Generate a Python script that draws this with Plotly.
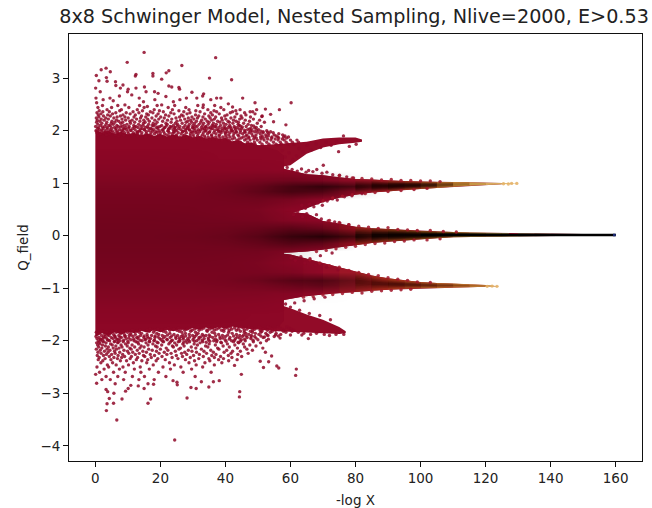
import plotly.graph_objects as go

# ---- envelopes (x = -log X, y = Q_field) ----
body_x   = [0, 2, 4, 6, 8, 10, 12, 14, 16, 18, 20, 22, 24, 26, 28, 30, 32, 34, 36, 38, 40, 42, 44, 46, 48, 50, 52, 54, 56, 58]
body_top = [2.02, 1.96, 2.00, 1.94, 1.98, 1.93, 1.96, 1.91, 1.95, 1.90, 1.94, 1.89, 1.93, 1.88, 1.92, 1.87, 1.90, 1.85, 1.88, 1.84, 1.86, 1.80, 1.82, 1.76, 1.78, 1.72, 1.70, 1.66, 1.62, 1.52]
body_bot = [-1.92, -1.86, -1.90, -1.84, -1.88, -1.83, -1.86, -1.81, -1.85, -1.80, -1.84, -1.79, -1.82, -1.78, -1.80, -1.76, -1.79, -1.75, -1.78, -1.74, -1.77, -1.73, -1.76, -1.75, -1.78, -1.76, -1.79, -1.78, -1.76, -1.62]

up18_x   = [45, 50, 55, 60, 65, 70, 75, 80, 82]
up18_top = [1.74, 1.72, 1.74, 1.76, 1.79, 1.85, 1.87, 1.87, 1.83]
up18_bot = [1.2, 1.25, 1.28, 1.34, 1.56, 1.68, 1.74, 1.77, 1.79]

up1_x   = [50, 60, 65, 70, 75, 80, 85, 90, 95, 100, 105, 110, 115, 120, 125, 130]
up1_top = [1.4, 1.24, 1.17, 1.15, 1.11, 1.08, 1.07, 1.05, 1.04, 1.03, 1.02, 1.02, 1.015, 1.01, 1.005, 1.0]
up1_bot = [0.3, 0.42, 0.52, 0.64, 0.72, 0.78, 0.82, 0.84, 0.87, 0.89, 0.91, 0.93, 0.95, 0.965, 0.98, 0.99]

mid_x   = [50, 60, 65, 70, 75, 80, 85, 90, 95, 100, 105, 110, 115, 120, 125, 130, 135, 140, 150, 160]
mid_top = [0.5, 0.45, 0.42, 0.28, 0.23, 0.17, 0.14, 0.125, 0.11, 0.09, 0.08, 0.07, 0.06, 0.055, 0.05, 0.045, 0.04, 0.035, 0.03, 0.03]
mid_bot = [-0.34, -0.32, -0.3, -0.27, -0.22, -0.18, -0.14, -0.11, -0.09, -0.07, -0.05, -0.03, -0.025, -0.02, -0.02, -0.015, -0.01, -0.005, 0.0, 0.0]

dn1_x   = [45, 56, 60, 64, 70, 75, 80, 85, 90, 95, 100, 105, 110, 115, 120, 124]
dn1_top = [-0.3, -0.33, -0.36, -0.42, -0.52, -0.6, -0.68, -0.76, -0.81, -0.85, -0.88, -0.9, -0.91, -0.925, -0.94, -0.955]
dn1_bot = [-1.3, -1.25, -1.2, -1.16, -1.12, -1.09, -1.07, -1.05, -1.03, -1.01, -1.0, -0.995, -0.985, -0.98, -0.97, -0.965]

dn18_x   = [45, 56, 60, 65, 70, 75, 77]
dn18_top = [-1.3, -1.3, -1.38, -1.5, -1.6, -1.74, -1.82]
dn18_bot = [-1.76, -1.82, -1.84, -1.85, -1.86, -1.87, -1.86]

line_x = [100, 160]
line_y = [0.013, 0.013]
cap_x = [159.2, 160]
cap_y = [0.013, 0.013]

# darkness of the dense interior
shade_x = [0, 0.3, 15, 30, 40, 50, 60, 70, 80, 88]
shade_y = [-1.7, -1.5, -1.3, -1.1, -0.95, -0.85, -0.7, -0.5, -0.3, -0.15, 0, 0.15, 0.3, 0.5, 0.7, 0.85, 0.95, 1.05, 1.25, 1.5, 1.7]
shade_z = [
    [0, 0, 0, 0, 0, 0, 0, 0, 0, 0],
    [0, .02, .02, .02, .01, 0, 0, 0, 0, 0],
    [0, .05, .05, .05, .04, .03, 0, 0, 0, 0],
    [0, .10, .10, .10, .10, .09, .06, .02, 0, 0],
    [0, .13, .13, .13, .15, .18, .28, .38, .25, 0],
    [0, .15, .15, .15, .18, .26, .42, .50, .35, 0],
    [0, .17, .17, .17, .17, .16, .12, 0, 0, 0],
    [0, .19, .19, .19, .18, .14, .04, 0, 0, 0],
    [0, .21, .21, .21, .20, .20, .12, 0, 0, 0],
    [0, .23, .23, .23, .25, .32, .45, .35, 0, 0],
    [0, .23, .23, .25, .29, .42, .68, .82, .60, 0],
    [0, .23, .23, .23, .25, .30, .40, .30, 0, 0],
    [0, .22, .22, .21, .20, .18, .08, 0, 0, 0],
    [0, .20, .20, .19, .17, .14, .02, 0, 0, 0],
    [0, .18, .18, .18, .19, .22, .16, 0, 0, 0],
    [0, .16, .16, .16, .22, .36, .55, .50, .12, 0],
    [0, .14, .14, .14, .20, .32, .55, .72, .55, 0],
    [0, .11, .11, .11, .14, .18, .22, .15, .04, 0],
    [0, .06, .06, .05, .04, .03, 0, 0, 0, 0],
    [0, .02, .02, .01, 0, 0, 0, 0, 0, 0],
    [0, 0, 0, 0, 0, 0, 0, 0, 0, 0],
]

# ---- individual points ----
stray_x = [15.0, 37.0, 9.8, 26.6, 3.3, 1.8, 4.6, 22.6, 21.8, 17.7, 12.5, 12.3, 17.7, 0.3, 35.1, 41.9, 20.4, 3.4, 3.6, 1.1,
           6.2, 6.3, 8.5, 0.1, 7.7, 10.1, 12.5, 15.1, 22.6, 23.5, 25.7, 25.9, 1.5, 9.9, 15.6, 18.2, 19.3, 29.7, 33.3, 33.0,
           45.3, 60.2, 56.6, 58.6, 52.3, 49.1, 0.2, 0.4, 2.4, 4.5, 5.5, 7.4, 9.1, 11.2, 13.5, 14.8, 16.0, 18.3, 20.4, 21.7,
           24.0, 26.0, 28.0, 31.2, 33.2, 35.5, 37.3, 38.6, 40.9, 42.2, 44.5, 47.6, 49.6, 51.2, 53.9, 54.8, 70.1, 74.8,
           24.4, 6.6, 3.4, 3.6, 5.6, 4.3, 8.2, 16.2, 17.0, 28.2, 44.3, 44.4, 5.7, 3.8, 3.3, 9.3, 10.1, 10.9, 13.2, 15.0,
           16.2, 17.9, 23.9, 25.1, 25.2, 29.4, 31.0, 32.6, 34.9, 36.3, 38.1, 0.4, 0.1, 6.1, 44.9, 61.6, 61.8, 55.8, 56.4, 51.7,
           50.7, 53.3, 54.2, 52.3, 42.8, 65.5, 56.8, 76.4]
stray_y = [3.49, 3.39, 3.30, 3.24, 3.19, 3.16, 3.12, 3.14, 3.10, 3.09, 3.07, 3.04, 3.04, 3.05, 3.00, 2.97, 2.98, 3.01, 2.94, 2.95,
           2.93, 2.86, 2.87, 2.81, 2.81, 2.79, 2.81, 2.83, 2.85, 2.83, 2.82, 2.79, 2.74, 2.74, 2.74, 2.74, 2.71, 2.73, 2.70, 2.66,
           2.62, 2.53, 2.40, 2.11, 2.41, 2.53, 2.62, 2.53, 2.59, 2.62, 2.57, 2.66, 2.49, 2.68, 2.62, 2.55, 2.46, 2.59, 2.49, 2.65,
           2.55, 2.59, 2.62, 2.62, 2.49, 2.59, 2.62, 2.62, 2.51, 2.45, 2.40, 2.36, 2.40, 2.27, 2.31, 2.17, 1.34, 1.60,
           -3.89, -3.51, -3.33, -3.20, -3.19, -3.10, -3.11, -3.19, -3.11, -3.09, -3.07, -2.97, -3.00, -2.97, -2.93, -2.96, -2.91, -2.85, -2.86, -2.91,
           -2.82, -2.83, -2.76, -2.79, -2.84, -2.89, -2.91, -2.78, -2.88, -2.78, -2.76, -2.81, -2.64, -2.82, -2.64, -2.66, -2.54, -2.48, -2.52, -2.51,
           -2.39, -2.40, -2.29, -2.22, -2.47, -1.96, -1.95, -1.88]

# dense speckle, row by row (y value -> x positions estimated along that row)
upper_rows = {
    1.74: [47.0, 49.1, 51.3, 53.4, 55.6, 57.2, 59.3, 61.0],
    1.78: [44.6, 46.8, 48.9, 50.6, 52.7, 54.8, 56.9, 58.7, 60.6, 62.5],
    1.82: [39.0, 41.2, 43.5, 45.9, 47.6, 49.8, 51.9, 54.0, 56.2, 58.1, 60.0, 62.0],
    1.84: [30.6, 33.0, 35.2, 37.4, 39.8, 42.1, 44.2, 46.4, 48.7, 50.9, 53.0, 55.3, 57.5],
    1.86: [25.1, 27.3, 29.4, 31.7, 33.8, 36.1, 38.3, 40.5, 42.8, 44.9, 47.2, 49.5, 51.6, 54.2, 56.4, 58.8],
    1.88: [15.4, 19.6, 21.3, 23.7, 26.0, 28.2, 30.3, 32.5, 34.7, 37.0, 39.2, 41.4, 45.5, 47.2, 49.0, 50.8, 52.5, 54.3, 56.1, 57.9, 59.4],
    1.90: [7.2, 13.0, 17.4, 22.6, 25.0, 27.0, 29.2, 31.4, 33.6, 35.8, 38.0, 40.1, 42.4, 44.1, 46.3, 48.4, 51.3, 53.2, 55.6, 58.3],
    1.92: [0.9, 3.4, 6.2, 8.8, 11.2, 14.1, 16.8, 19.4, 22.0, 24.9, 27.4, 30.1, 32.9, 35.7, 38.2, 41.0, 43.8, 46.6, 49.4, 52.4, 55.0, 57.6],
    1.94: [1.5, 4.4, 7.6, 10.2, 13.0, 15.6, 18.2, 21.3, 23.6, 26.4, 29.2, 31.6, 34.5, 37.1, 40.0, 42.6, 45.3, 48.1, 50.7, 53.3, 56.4],
    1.96: [0.5, 2.6, 5.6, 9.0, 11.7, 14.3, 17.1, 20.0, 22.7, 25.5, 28.0, 30.9, 33.2, 36.4, 38.7, 41.4, 44.5, 47.3, 51.6, 54.7],
    1.97: [3.1, 6.6, 12.9, 19.0, 24.2, 29.9, 35.0, 39.9, 43.2, 46.0, 49.9, 53.0],
    1.98: [1.9, 3.9, 6.9, 10.0, 12.8, 15.7, 18.6, 21.0, 24.1, 26.8, 29.5, 32.1, 35.2, 37.9, 40.6, 43.4, 46.0, 49.0, 51.6, 53.9],
    1.99: [0.8, 4.7, 8.4, 13.6, 17.6, 22.4, 27.0, 31.2, 34.0, 38.4, 42.2, 47.7, 50.9],
    2.00: [0.2, 3.0, 5.2, 8.1, 11.0, 13.6, 16.5, 19.6, 22.3, 25.0, 27.7, 30.4, 33.7, 36.7, 39.1, 42.0, 44.7, 48.2, 52.7],
    2.01: [2.0, 6.3, 10.8, 15.2, 20.5, 24.6, 28.9, 32.3, 37.8, 41.7, 45.9, 49.6],
    2.02: [1.3, 4.5, 7.4, 9.6, 12.2, 15.0, 18.0, 20.8, 23.9, 26.3, 29.0, 31.7, 34.1, 37.4, 40.4, 43.1, 46.8, 50.2],
    2.03: [3.6, 8.9, 13.9, 17.3, 22.5, 27.8, 33.0, 35.6, 39.7, 44.2, 47.4],
    2.04: [0.7, 2.4, 6.4, 8.6, 11.5, 14.4, 17.0, 19.2, 22.8, 25.6, 28.3, 30.6, 33.5, 36.1, 38.9, 41.8, 45.0, 47.9],
    2.05: [5.0, 10.3, 16.3, 21.1, 24.4, 30.0, 34.8, 40.0, 42.9, 49.0],
    2.06: [1.0, 3.7, 5.9, 9.4, 13.1, 15.4, 18.8, 21.4, 24.5, 27.1, 29.9, 32.6, 35.4, 38.0, 40.9, 43.6, 49.5],
    2.07: [2.2, 7.7, 12.0, 19.3, 23.4, 28.4, 33.9, 37.1, 41.5, 45.2],
    2.08: [0.1, 2.9, 7.0, 10.4, 12.5, 16.0, 19.9, 23.0, 26.0, 28.7, 31.3, 34.0, 36.8, 39.6, 42.7, 46.4, 51.0],
    2.09: [4.6, 8.2, 14.0, 17.9, 21.8, 25.2, 30.7, 36.2, 44.6, 48.7],
    2.10: [1.6, 4.2, 6.6, 8.9, 11.8, 14.7, 17.5, 20.4, 24.0, 27.6, 30.0, 33.0, 35.9, 38.5, 41.3, 44.2, 48.0],
    2.12: [0.8, 3.3, 5.5, 9.7, 13.3, 16.4, 18.5, 22.1, 25.3, 28.9, 31.9, 34.7, 37.2, 40.2, 43.9, 47.0],
    2.14: [2.0, 4.9, 7.8, 10.8, 14.8, 17.8, 21.7, 24.6, 26.7, 30.5, 33.3, 36.3, 39.4, 42.3, 45.6, 49.8],
    2.16: [0.4, 3.5, 6.0, 8.4, 12.1, 15.3, 19.0, 23.3, 27.9, 29.6, 32.4, 35.0, 38.3, 41.2, 44.0, 52.0],
    2.18: [1.4, 5.1, 7.2, 10.6, 13.7, 16.6, 20.7, 25.1, 28.4, 31.1, 34.4, 37.6, 40.8, 43.3, 47.4],
    2.20: [0.6, 2.7, 6.5, 9.3, 11.3, 14.9, 18.3, 22.2, 26.2, 29.3, 32.7, 35.8, 39.0, 42.5, 46.1, 50.5],
    2.22: [1.8, 4.0, 8.2, 12.7, 16.1, 19.5, 23.5, 27.5, 30.3, 33.8, 36.6, 40.1, 44.4, 48.6],
    2.24: [0.3, 3.2, 5.7, 10.1, 13.9, 17.4, 21.2, 24.8, 28.6, 31.4, 35.3, 38.8, 41.7, 45.1],
    2.26: [1.1, 6.7, 9.1, 11.9, 15.5, 20.1, 25.9, 29.7, 33.1, 37.0, 42.9, 47.7],
    2.28: [2.5, 4.6, 7.7, 14.2, 18.7, 22.6, 27.0, 31.8, 34.9, 39.8, 44.8, 51.3],
    2.30: [0.9, 3.8, 8.5, 12.3, 16.3, 21.6, 26.5, 30.8, 36.0, 40.5, 46.3],
    2.32: [1.7, 5.3, 10.7, 15.8, 19.3, 24.2, 28.2, 33.6, 38.1, 43.5, 49.1],
    2.34: [0.5, 6.3, 9.5, 13.4, 17.7, 23.2, 29.1, 35.5, 41.5, 45.9],
    2.36: [2.3, 4.3, 11.6, 16.9, 20.9, 27.2, 32.2, 37.3, 42.2, 48.4],
    2.38: [1.2, 7.5, 14.5, 19.7, 25.7, 30.9, 36.5, 43.2],
    2.40: [3.6, 8.0, 12.9, 18.1, 23.7, 28.8, 34.6, 39.5],
    2.44: [0.8, 5.0, 10.3, 15.0, 22.4, 27.8, 33.1, 38.6],
    2.48: [2.2, 6.9, 13.6, 19.0, 24.4, 31.5, 36.7],
}
lower_rows = {
    -1.74: [31.5, 34.7, 38.2, 41.6, 44.9, 47.3, 50.4, 53.1, 56.2, 58.9],
    -1.76: [22.4, 25.6, 28.8, 31.0, 33.4, 35.9, 38.0, 40.6, 42.8, 45.5, 48.1, 50.9, 53.7, 56.8, 59.6],
    -1.78: [16.8, 19.2, 21.6, 24.1, 26.3, 28.2, 30.4, 32.7, 35.1, 37.3, 39.6, 41.9, 44.0, 46.6, 49.0, 51.5, 54.2, 57.4, 60.2],
    -1.80: [11.4, 13.7, 16.0, 18.3, 20.4, 22.9, 25.1, 27.5, 29.7, 31.9, 34.3, 36.6, 38.8, 41.2, 43.4, 45.8, 48.4, 50.7, 52.9, 55.4, 58.1, 61.0],
    -1.82: [2.1, 5.1, 8.3, 12.8, 16.6, 20.9, 25.8, 29.3, 34.4, 39.5, 44.6, 47.7, 51.2, 54.4, 57.8, 60.5],
    -1.84: [0.3, 3.5, 6.4, 9.9, 13.5, 17.9, 21.7, 26.6, 30.8, 35.9, 41.0, 45.8, 48.3, 50.9, 53.8, 58.6, 62.4],
    -1.86: [1.3, 4.6, 7.8, 10.8, 14.2, 18.9, 22.9, 27.7, 31.6, 36.7, 42.1, 46.3, 49.2, 52.4, 55.6, 64.1, 68.0],
    -1.88: [0.6, 2.9, 5.6, 8.9, 12.3, 15.9, 19.5, 24.2, 28.9, 32.9, 37.9, 43.4, 47.2, 50.3, 57.0, 66.2, 70.4, 74.0],
    -1.89: [3.8, 11.0, 22.2, 26.9, 31.1, 35.0, 40.7, 45.6, 52.8, 55.4, 60.0, 63.5],
    -1.90: [1.9, 4.2, 7.2, 10.4, 13.9, 17.3, 20.6, 25.3, 29.9, 34.0, 39.1, 44.4, 48.0, 53.1, 72.0],
    -1.91: [6.0, 9.2, 15.0, 18.4, 23.5, 27.8, 33.3, 37.0, 42.5, 46.4, 50.9, 56.3],
    -1.92: [0.2, 3.0, 6.0, 9.1, 11.6, 16.0, 21.4, 26.4, 30.6, 35.3, 40.0, 45.2, 49.0, 55.0],
    -1.93: [2.5, 7.6, 13.2, 19.3, 24.7, 29.0, 32.4, 38.3, 43.6, 47.9, 52.0],
    -1.94: [1.1, 4.9, 8.0, 12.7, 14.9, 18.3, 23.0, 27.1, 31.9, 36.1, 41.4, 46.7, 51.6],
    -1.95: [3.4, 6.3, 10.3, 16.4, 20.9, 25.8, 30.3, 34.7, 39.2, 44.3, 49.4],
    -1.96: [0.5, 2.4, 5.4, 9.5, 13.1, 17.0, 19.8, 24.8, 28.4, 33.5, 38.4, 43.1, 47.8],
    -1.97: [1.7, 7.1, 11.8, 15.5, 22.0, 27.0, 31.8, 36.9, 41.2, 45.9, 53.2],
    -1.98: [1.6, 3.7, 6.7, 10.9, 15.3, 20.2, 22.1, 26.0, 30.0, 34.8, 39.9, 44.9, 50.0],
    -1.99: [4.0, 8.7, 13.8, 18.2, 23.7, 28.7, 32.9, 37.4, 42.8, 48.5],
    -2.00: [0.9, 4.4, 7.6, 11.9, 14.4, 18.0, 23.4, 27.9, 31.2, 36.4, 41.9, 46.1, 52.6],
    -2.01: [2.2, 6.0, 10.0, 16.6, 20.7, 25.9, 30.5, 35.2, 40.2, 44.6],
    -2.02: [2.6, 5.8, 8.6, 12.5, 16.7, 21.0, 25.5, 29.0, 33.0, 37.3, 42.5, 48.6],
    -2.03: [1.2, 7.0, 13.0, 19.0, 23.0, 27.2, 34.1, 38.6, 43.9],
    -2.04: [0.4, 3.3, 6.9, 10.1, 15.6, 19.3, 24.4, 28.2, 32.2, 38.8, 44.1, 50.8],
    -2.06: [1.4, 4.7, 9.3, 13.3, 17.7, 22.6, 26.9, 30.4, 35.0, 40.6, 45.5],
    -2.08: [0.7, 2.2, 5.2, 7.9, 11.3, 16.2, 20.4, 25.0, 31.4, 36.9, 42.9, 47.5],
    -2.10: [3.1, 6.3, 9.8, 14.1, 18.5, 23.7, 27.3, 33.9, 39.3, 49.4],
    -2.12: [1.0, 4.0, 8.2, 12.1, 15.0, 19.0, 24.0, 29.5, 34.6, 41.2, 45.9],
    -2.14: [2.0, 5.5, 7.3, 10.6, 13.7, 21.8, 26.2, 30.9, 37.6, 43.7, 51.5],
    -2.16: [0.3, 3.6, 6.5, 11.0, 16.4, 20.0, 25.7, 32.6, 38.0, 46.6],
    -2.18: [1.5, 4.5, 8.8, 12.9, 17.5, 22.3, 28.6, 35.5, 40.4, 48.3],
    -2.20: [2.8, 5.9, 9.9, 14.6, 18.8, 24.6, 29.7, 33.4, 42.2, 44.6],
    -2.22: [0.8, 3.9, 7.5, 11.5, 15.7, 21.2, 27.5, 31.1, 36.3, 39.6],
    -2.24: [1.8, 6.1, 10.3, 13.5, 19.6, 23.3, 26.5, 34.2, 41.7, 47.0],
    -2.26: [3.4, 5.0, 8.4, 12.3, 16.9, 22.0, 28.1, 32.0, 37.1, 43.8],
    -2.28: [0.6, 2.5, 7.0, 14.8, 18.2, 24.9, 30.2, 35.8, 40.9],
    -2.30: [4.3, 9.0, 11.1, 15.2, 20.5, 26.8, 33.2, 38.5, 45.0],
    -2.32: [1.2, 5.7, 8.1, 13.0, 17.2, 23.6, 29.2, 36.6, 42.0],
    -2.34: [3.0, 6.8, 10.7, 19.2, 25.4, 31.8, 34.9, 39.4],
    -2.36: [0.9, 4.8, 12.6, 16.1, 21.5, 27.7, 37.9, 43.6],
    -2.38: [2.3, 7.7, 9.6, 14.3, 18.7, 30.5, 35.2, 41.0],
    -2.42: [1.7, 5.3, 11.7, 15.8, 22.8, 28.8, 33.7, 38.9],
    -2.46: [3.7, 6.4, 10.2, 17.8, 24.3, 31.0, 36.6],
    -2.50: [0.5, 4.1, 8.5, 13.8, 20.8, 26.3, 33.0],
    -2.54: [2.7, 7.4, 12.0, 16.6, 23.1, 29.6],
    -2.60: [1.3, 5.6, 9.2, 14.0, 19.4, 27.0, 35.6],
    -2.68: [3.3, 6.9, 11.4, 15.1, 21.7, 30.7],
    -2.74: [2.0, 4.6, 8.7, 13.4, 18.1],
}
# strays in and around the gaps between lobes
gap_x = [56.0, 57.5, 58.4, 59.6, 60.7, 61.9, 62.6, 63.8, 65.1, 66.4, 67.9, 69.3, 71.0, 72.5, 74.2, 76.3, 78.1, 80.2,
         59.0, 60.5, 62.1, 63.4, 64.8, 65.6, 66.9, 68.1, 69.7, 71.2, 73.0, 75.1, 77.3, 79.4,
         63.5, 64.6, 65.9, 67.2, 68.4, 69.8, 71.3, 72.9, 74.4, 76.6, 78.9, 82.0,
         61.0, 62.2, 63.7, 65.0, 66.3, 68.0, 69.5, 71.6, 73.6, 75.2, 77.9,
         60.2, 61.5, 63.2, 64.4, 66.0, 67.7, 69.2, 71.1, 72.8, 74.6,
         58.5, 60.0, 61.3, 62.8, 64.2, 65.8, 67.3, 69.0, 70.6, 72.3]
gap_y = [1.72, 1.62, 1.50, 1.58, 1.45, 1.52, 1.66, 1.60, 1.72, 1.63, 1.75, 1.68, 1.78, 1.72, 1.80, 1.90, 1.70, 1.74,
         1.30, 1.26, 1.23, 1.27, 1.21, 1.24, 1.22, 1.26, 1.19, 1.21, 1.16, 1.15, 1.12, 1.10,
         0.58, 0.52, 0.60, 0.55, 0.62, 0.58, 0.66, 0.70, 0.68, 0.74, 0.76, 0.80,
         0.40, 0.46, 0.36, 0.42, 0.35, 0.40, 0.32, 0.28, 0.26, 0.24, 0.21,
         -0.42, -0.47, -0.40, -0.52, -0.44, -0.56, -0.38, -0.60, -0.33, -0.65,
         -1.30, -1.36, -1.28, -1.42, -1.24, -1.48, -1.20, -1.52, -1.17, -1.60]
edge_x = [75, 79, 82, 85, 88, 91, 94, 97, 100, 103, 106, 70, 73, 76, 79, 83, 86, 90, 94, 98, 102,
          72, 75, 78, 81, 84, 87, 90, 93, 96, 99, 103, 107, 111,
          68, 71, 74, 77, 80, 83, 86, 89, 92, 95, 98, 102, 106,
          64, 67, 70, 73, 76, 79, 82, 85, 88, 91, 94, 97,
          66, 69, 72, 75, 78, 81, 84, 87, 90, 93, 96, 99, 103]
edge_y = [1.14, 1.10, 1.09, 1.08, 1.06, 1.07, 1.05, 1.05, 1.04, 1.04, 1.03, 0.66, 0.72, 0.75, 0.78, 0.80, 0.82, 0.84, 0.86, 0.88, 0.90,
          0.29, 0.25, 0.21, 0.18, 0.16, 0.14, 0.15, 0.12, 0.11, 0.10, 0.10, 0.08, 0.07,
          -0.30, -0.28, -0.25, -0.22, -0.20, -0.17, -0.15, -0.14, -0.11, -0.10, -0.08, -0.08, -0.06,
          -1.17, -1.16, -1.13, -1.12, -1.10, -1.08, -1.09, -1.06, -1.05, -1.04, -1.03, -1.02,
          -0.46, -0.52, -0.57, -0.60, -0.66, -0.70, -0.74, -0.76, -0.80, -0.83, -0.85, -0.88, -0.89]
tip_x = [125.5, 127.0, 128.0, 129.6, 120.5, 122.0, 123.5]
tip_y = [0.99, 0.985, 0.995, 0.995, -0.965, -0.96, -0.965]

# ---- styles ----
RED = "#8d0726"
POINT = "rgba(143,8,40,0.85)"
up1_col = [RED, RED, RED, "#900927", "#940c27", "#9a1426", "#9c1c22", "#98281c", "#9a341c", "#a04a20", "#b0682a", "#c28434", "#d49c4c", "#deae60", "#e6bc74"]
up1_core = ["#1c0000"] * 8 + ["#200400", "#341406", "#6a3c10", "#a06e28", "#c49848", "#d6ac60", "#e0bc74"]
up1_alpha = [0, 0, 0, 0, 0, .35, .8, 1, 1, 1, 1, 1, 1, 1, 1]
mid_col = [RED, RED, RED, "#900a24", "#941020", "#8e2018", "#842814", "#7c3010", "#78380e", "#7c4410", "#885418", "#966c24", "#a08234", "#a8904a", "#9c9458", "#7c8458", "#505c38", "#282c1c", "#101010"]
mid_core = ["#080000"] * 19
mid_alpha = [0, 0, 0, 0, 0, .4, .85, 1, 1, 1, 1, 1, 1, 1, 1, 1, 1, 1, 1]
dn1_col = [RED, RED, RED, "#900927", "#960e27", "#9c1626", "#a02022", "#a4281c", "#a6341a", "#ac4620", "#b25824", "#bc6c2c", "#c68036", "#cf9044", "#d8a054"]
dn1_core = ["#3c0604"] * 9 + ["#4a1006", "#5e1c08", "#763010", "#8e4616", "#a45c20", "#b87430"]
dn1_alpha = [0, 0, 0, 0, 0, 0, .3, .55, .65, .7, .8, .9, 1, 1, 1]

fig = go.Figure()


def band(x, top, bot, color, opacity=1.0, xa="x", ya="y"):
    fig.add_trace(go.Scatter(
        x=list(x) + list(x)[::-1], y=list(top) + list(bot)[::-1], xaxis=xa, yaxis=ya,
        mode="lines", fill="toself", fillcolor=color, line=dict(width=0),
        opacity=opacity, hoverinfo="skip", showlegend=False))


def shrink(top, bot, f):
    cen = [(t + b) / 2 for t, b in zip(top, bot)]
    return ([c + (t - c) * f for c, t in zip(cen, top)],
            [c + (b - c) * f for c, b in zip(cen, bot)])


def lobe_outer(x, top, bot, cols):
    band(x[:-1], top[:-1], bot[:-1], "#921026")
    for i in range(len(x) - 1):
        band(x[i:i + 2], top[i:i + 2], bot[i:i + 2], cols[i])


def lobe_core(x, top, bot, cores, alpha):
    for f, op in ((0.85, 0.2), (0.7, 0.3), (0.55, 0.35), (0.4, 0.5), (0.22, 0.7)):
        t, b = shrink(top, bot, f)
        for i in range(len(x) - 1):
            if alpha[i] > 0:
                band(x[i:i + 2], t[i:i + 2], b[i:i + 2], cores[i], op * alpha[i], "x3", "y3")


band(up18_x, up18_top, up18_bot, "#920b28")
band(dn18_x, dn18_top, dn18_bot, "#920b28")
lobe_outer(up1_x, up1_top, up1_bot, up1_col)
lobe_outer(dn1_x, dn1_top, dn1_bot, dn1_col)
lobe_outer(mid_x, mid_top, mid_bot, mid_col)
band(body_x, body_top, body_bot, RED)

fig.add_trace(go.Heatmap(x=shade_x, y=shade_y, z=shade_z, zmin=0, zmax=1, zsmooth="best", showscale=False,
                         colorscale=[[0, "rgba(16,0,0,0)"], [1, "rgba(16,0,0,1)"]],
                         hoverinfo="skip", xaxis="x2", yaxis="y2"))

lobe_core(up1_x, up1_top, up1_bot, up1_core, up1_alpha)
lobe_core(dn1_x, dn1_top, dn1_bot, dn1_core, dn1_alpha)
lobe_core(mid_x, mid_top, mid_bot, mid_core, mid_alpha)

fig.add_trace(go.Scatter(x=line_x, y=line_y, mode="lines", line=dict(color="#000000", width=2.6),
                         xaxis="x3", yaxis="y3", hoverinfo="skip", showlegend=False))
fig.add_trace(go.Scatter(x=cap_x, y=cap_y, mode="lines", line=dict(color="#1c2a78", width=2.6),
                         xaxis="x3", yaxis="y3", hoverinfo="skip", showlegend=False))

row_x = [v for rows in (upper_rows, lower_rows) for xs in rows.values() for v in xs]
row_y = [k for rows in (upper_rows, lower_rows) for k, xs in rows.items() for _ in xs]
for xs, ys, c in ((row_x, row_y, POINT), (stray_x, stray_y, POINT), (gap_x, gap_y, POINT),
                  (edge_x, edge_y, "rgba(160,20,40,0.85)"), (tip_x, tip_y, "rgba(228,176,100,0.85)")):
    fig.add_trace(go.Scatter(x=xs, y=ys, mode="markers", xaxis="x3", yaxis="y3",
                             marker=dict(size=3.4, color=c, line=dict(width=0)),
                             hoverinfo="skip", showlegend=False))

FONT = "DejaVu Sans"
INK = "#222222"
XR = [-8.1, 168.1]
YR = [-4.29, 3.84]
axis = dict(showgrid=False, zeroline=False, showline=True, mirror=True, linecolor="#111111", linewidth=1,
            ticks="outside", ticklen=5, tickwidth=1, tickcolor="#111111", automargin=False,
            tickfont=dict(family=FONT, size=13.5, color=INK))
hidden = dict(visible=False, showgrid=False, zeroline=False)
fig.update_layout(
    width=652, height=508, plot_bgcolor="white", paper_bgcolor="white",
    margin=dict(l=69, r=10, t=34, b=47),
    font=dict(family=FONT, color=INK),
    title=dict(text="8x8 Schwinger Model, Nested Sampling, Nlive=2000, E>0.53",
               font=dict(family=FONT, size=19.2, color=INK),
               x=0.543, xanchor="center", y=0.9685, yanchor="middle"),
    xaxis=dict(axis, range=XR, tickvals=list(range(0, 161, 20)),
               title=dict(text="-log X", font=dict(family=FONT, size=13.5, color=INK), standoff=10)),
    yaxis=dict(axis, range=YR, tickvals=list(range(-4, 4)),
               title=dict(text="Q_field", font=dict(family=FONT, size=13.5, color=INK), standoff=8)),
    xaxis2=dict(hidden, range=XR, overlaying="x"),
    yaxis2=dict(hidden, range=YR, overlaying="y"),
    xaxis3=dict(hidden, range=XR, overlaying="x"),
    yaxis3=dict(hidden, range=YR, overlaying="y"),
)
fig.write_html("out.html", config={"displayModeBar": False},
               post_script="document.body.style.margin='0';")
